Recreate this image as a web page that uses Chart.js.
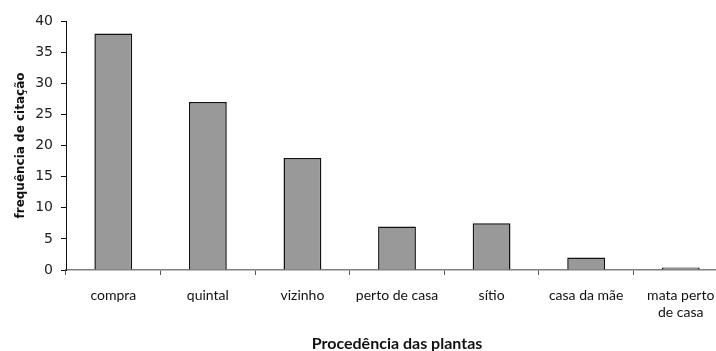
<!DOCTYPE html>
<html>
<head>
<meta charset="utf-8">
<script src="https://cdn.jsdelivr.net/npm/chart.js@4"></script>
<style>
  html, body { margin: 0; padding: 0; background: #fff; overflow: hidden; }
  #wrap { width: 728px; height: 357px; }
</style>
</head>
<body>
<div id="wrap"><canvas id="procChart"></canvas></div>
<script>
// Procedência das plantas x frequência de citação
const categories = ['compra', 'quintal', 'vizinho', 'perto de casa', 'sítio', 'casa da mãe', ['mata perto', 'de casa']];
const citations = [38, 27, 18, 7, 7.5, 2, 0.4];
const yTicks = [0, 5, 10, 15, 20, 25, 30, 35, 40];

document.addEventListener('DOMContentLoaded', () => {
    const ctx = document.getElementById('procChart').getContext('2d');
    new Chart(ctx, {
        type: 'bar',
        data: {
            labels: categories,
            datasets: [{
                data: citations,
                backgroundColor: '#999999',
                borderColor: '#111111',
                borderWidth: 1.5,
                borderSkipped: 'bottom',
                barPercentage: 0.4,
                categoryPercentage: 1
            }]
        },
        options: {
            responsive: true,
            maintainAspectRatio: false,
            animation: false,
            layout: { padding: { left: 10, top: 21, right: 0, bottom: 0 } },
            plugins: {
                legend: { display: false },
                tooltip: { enabled: false }
            },
            scales: {
                x: {
                    offset: true,
                    grid: {
                        offset: true,
                        drawOnChartArea: false,
                        drawTicks: true,
                        tickLength: 5,
                        color: '#555'
                    },
                    border: { color: '#808080', width: 1.5 },
                    ticks: {
                        color: '#111',
                        padding: 12,
                        maxRotation: 0,
                        autoSkip: false,
                        font: { family: 'Lato', size: 14 }
                    },
                    title: {
                        display: true,
                        text: 'Procedência das plantas',
                        color: '#111',
                        font: { family: 'Lato', size: 16, weight: 'bold' }
                    },
                    afterFit: (scale) => { scale.height = 87; }
                },
                y: {
                    min: 0,
                    max: 40,
                    afterBuildTicks: (scale) => {
                        scale.ticks = yTicks.map(v => ({ value: v }));
                    },
                    grid: {
                        drawOnChartArea: false,
                        drawTicks: true,
                        tickLength: 5,
                        color: '#111'
                    },
                    border: { color: '#111', width: 1 },
                    ticks: {
                        color: '#222',
                        padding: 8,
                        font: { family: 'DejaVu Sans', size: 14 }
                    },
                    title: {
                        display: true,
                        text: 'frequência de citação',
                        color: '#111',
                        font: { family: 'DejaVu Sans', size: 12, weight: 'bold' }
                    },
                    afterFit: (scale) => { scale.width = 56; }
                }
            }
        }
    });
});
</script>
</body>
</html>
